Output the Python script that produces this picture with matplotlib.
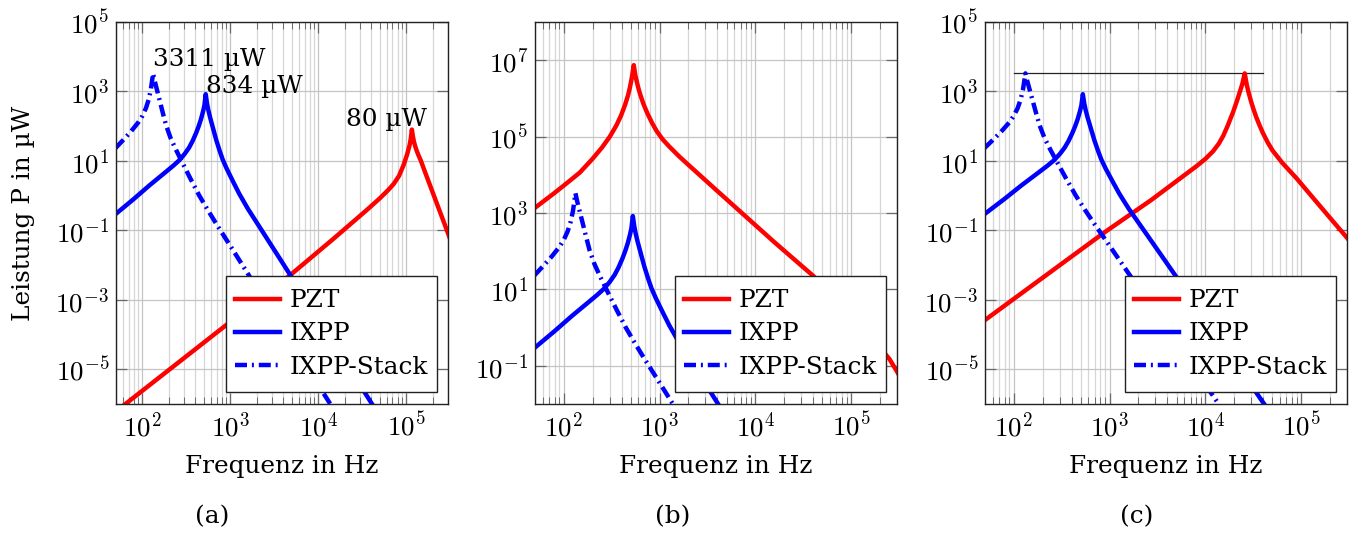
import matplotlib
matplotlib.use('Agg')
import matplotlib.pyplot as plt
from matplotlib.patches import Rectangle
from matplotlib.ticker import LogLocator, NullLocator, NullFormatter, FuncFormatter, FixedLocator
import math

plt.rcParams['font.family'] = ['DejaVu Serif']
plt.rcParams['mathtext.fontset'] = 'cm'

# ---------------- data (frequency in Hz, power in µW) ----------------
# IXPP (same in all panels)
ixpp_f = [49.0, 79.4, 119.4, 177.8, 223.9, 263.0, 302.0, 338.8, 371.5, 407.4, 436.5,
          463.4, 489.8, 507.0, 524.8, 543.3, 562.3, 588.8, 631.0, 691.8, 758.6, 818.5,
          912.0, 1072, 1259, 1585, 2344, 3846, 10000, 40740, 63100]
ixpp_P = [0.2884, 0.7943, 1.950, 4.467, 7.244, 10.47, 15.85, 23.99, 37.15, 63.10, 100,
          158.5, 269.2, 398.1, 834, 446.7, 288.4, 177.8, 93.33, 39.81, 19.05, 10.96,
          5.888, 2.570, 1.148, 0.4169, 0.08913, 0.01259, 2.818e-4, 1.023e-6, 1.778e-7]

# IXPP-Stack (same in all panels)
stack_f = [49.0, 60.26, 74.13, 89.13, 100, 109.6, 117.5, 124.5, 132.1, 138.0, 144.5,
           154.9, 169.8, 185.4, 208.9, 239.9, 287.1, 354.8, 443.6, 549.5, 687.1, 1019,
           1585, 13650, 19950]
stack_P = [22.91, 39.81, 70.79, 125.9, 199.5, 331.1, 575.4, 1122, 3311, 1995, 1259,
           631.0, 251.2, 107.2, 45.71, 21.38, 8.511, 2.951, 1.0, 0.3981, 0.1585, 0.03311,
           5.623e-3, 1.023e-6, 2.239e-7]

# PZT, panel (a)
pzt_a_f = [49.0, 893.3, 5012, 14790, 35480, 50120, 63100, 72440, 83180, 93330, 102300,
           109600, 113000, 116400, 119700, 123000, 127400, 131800, 138000, 146600,
           166000, 188400, 234400, 291700, 316200]
pzt_a_P = [5.888e-7, 1.862e-4, 5.623e-3, 0.05623, 0.3802, 0.8318, 1.479, 2.188, 3.715,
           7.413, 14.79, 28.18, 42.66, 80, 50.12, 35.48, 25.70, 19.95, 14.79, 10.47,
           4.467, 1.905, 0.4365, 0.1, 0.05754]

# PZT, panel (b)
pzt_b_f = [49.0, 79.43, 112.2, 146.9, 199.5, 251.2, 302.0, 354.8, 398.1, 436.5, 467.7,
           489.8, 512.9, 537.0, 555.9, 575.4, 602.6, 631.0, 676.1, 741.3, 831.8, 933.3,
           1072, 1259, 1585, 1995, 3981, 6918, 15850, 39810, 79430, 125900, 199500,
           251200, 295100, 316200]
pzt_b_P = [1318, 3311, 6607, 11480, 26300, 52480, 1.0e5, 1.995e5, 3.715e5, 6.918e5,
           1.202e6, 1.950e6, 3.548e6, 7.413e6, 4.169e6, 2.818e6, 1.778e6, 1.202e6,
           7.244e5, 4.169e5, 2.291e5, 1.380e5, 85110, 54950, 30900, 18200, 3802, 1096,
           169.8, 22.91, 3.981, 1.072, 0.3020, 0.1479, 0.07586, 0.05623]

# PZT, panel (c)
pzt_c_f = [49.0, 891.3, 2735, 8072, 10000, 12020, 13800, 15310, 16980, 19500, 21380,
           22910, 24270, 25700, 26920, 28180, 29850, 31620, 33880, 36730, 39810, 44670,
           50120, 63100, 89130, 125900, 199500, 295100, 316200]
pzt_c_P = [2.512e-4, 0.08913, 0.7586, 7.079, 11.48, 19.05, 31.62, 52.48, 100, 263.0,
           549.5, 1000, 1660, 3311, 1585, 933.3, 524.8, 316.2, 182.0, 104.7, 63.10,
           33.88, 19.95, 8.913, 3.162, 1.023, 0.2291, 0.06457, 0.05129]

# reference line in panel (c)
ref_f = [100, 40000]
ref_P = [3311, 3311]

labels = ['PZT', 'IXPP', 'IXPP-Stack']
yticks_ac = [1e-5, 1e-3, 1e-1, 1e1, 1e3, 1e5]
yticks_b = [1e-1, 1e1, 1e3, 1e5, 1e7]
xticks = [1e2, 1e3, 1e4, 1e5]

# ---------------- figure ----------------
W, H = 1355, 536
fig = plt.figure(figsize=(W / 100, H / 100), dpi=100)

FS = 17.8      # text
TFS = 19.5     # tick labels (Computer Modern)
RED = '#ff0000'
BLUE = '#0000ff'
LW = 3.2
DASHDOT = (0, (2.7, 1.1, 0.45, 1.1))

fmt = FuncFormatter(lambda v, p: r'$10^{%d}$' % int(round(math.log10(v))))

# axes boxes in pixels: left, right, top, bottom
BOXES = [(116, 448, 22, 404), (535, 897, 22, 404), (985, 1347, 22, 404)]
LEG_W, LEG_H, LEG_GAP_R, LEG_GAP_B = 211, 116, 11, 12


def make_axes(box):
    l, r, t, b = box
    return fig.add_axes([l / W, 1 - b / H, (r - l) / W, (b - t) / H])


def style(ax, ylim, yticks):
    ax.set_xscale('log')
    ax.set_yscale('log')
    ax.set_xlim(50, 3e5)
    ax.set_ylim(*ylim)
    ax.xaxis.set_major_locator(FixedLocator(xticks))
    ax.xaxis.set_minor_locator(LogLocator(base=10, subs=range(2, 10), numticks=30))
    ax.xaxis.set_minor_formatter(NullFormatter())
    ax.xaxis.set_major_formatter(fmt)
    ax.yaxis.set_major_locator(FixedLocator(yticks))
    ax.yaxis.set_minor_locator(NullLocator())
    ax.yaxis.set_major_formatter(fmt)
    ax.grid(True, which='major', color='#c4c4c4', lw=0.9)
    ax.grid(True, which='minor', axis='x', color='#d6d6d6', lw=0.9)
    ax.tick_params(which='both', direction='in', top=True, right=True, color='#6a6a6a')
    ax.tick_params(which='major', length=8, width=0.9, labelsize=TFS)
    ax.tick_params(axis='x', which='major', pad=6)
    ax.tick_params(axis='y', which='major', pad=5)
    ax.tick_params(which='minor', length=5, width=0.7)
    for s in ax.spines.values():
        s.set_linewidth(1.0)
        s.set_color('#222222')
    ax.set_axisbelow(True)


def curves(ax, box, pf, pP):
    ax.plot(pf, pP, color=RED, lw=LW, label=labels[0], solid_joinstyle='round')
    ax.plot(ixpp_f, ixpp_P, color=BLUE, lw=LW, label=labels[1], solid_joinstyle='round')
    ax.plot(stack_f, stack_P, color=BLUE, lw=LW, ls=DASHDOT, label=labels[2])
    l, r, t, b = box
    aw, ah = r - l, b - t
    x0 = (aw - LEG_GAP_R - LEG_W) / aw
    y0 = LEG_GAP_B / ah
    fw, fh = LEG_W / aw, LEG_H / ah
    ax.add_patch(Rectangle((x0, y0), fw, fh, transform=ax.transAxes, facecolor='white',
                           edgecolor='#222222', lw=1.0, zorder=4.9, clip_on=False))
    ax.legend(loc='center', bbox_to_anchor=(x0 + fw / 2, y0 + fh / 2), fontsize=FS,
              frameon=False, borderpad=0, handlelength=1.82, handletextpad=0.4,
              labelspacing=0.41, borderaxespad=0)


axes = [make_axes(bx) for bx in BOXES]
ax_a, ax_b, ax_c = axes

style(ax_a, (1e-6, 1e5), yticks_ac)
style(ax_b, (1e-2, 1e8), yticks_b)
style(ax_c, (1e-6, 1e5), yticks_ac)

curves(ax_a, BOXES[0], pzt_a_f, pzt_a_P)
curves(ax_b, BOXES[1], pzt_b_f, pzt_b_P)
curves(ax_c, BOXES[2], pzt_c_f, pzt_c_P)
ax_c.plot(ref_f, ref_P, color='#222222', lw=0.9, zorder=1.5)

# peak annotations in (a)
i_s = stack_P.index(max(stack_P))
i_i = ixpp_P.index(max(ixpp_P))
i_p = pzt_a_P.index(max(pzt_a_P))
ax_a.annotate('%d µW' % round(stack_P[i_s]), xy=(stack_f[i_s], stack_P[i_s]),
              xytext=(0, 5), textcoords='offset points', ha='left', va='baseline', fontsize=FS)
ax_a.annotate('%d µW' % round(ixpp_P[i_i]), xy=(ixpp_f[i_i], ixpp_P[i_i]),
              xytext=(0.5, 1), textcoords='offset points', ha='left', va='baseline', fontsize=FS)
ax_a.annotate('%d µW' % round(pzt_a_P[i_p]), xy=(pzt_a_f[i_p], pzt_a_P[i_p]),
              xytext=(-18.5, 2.4), textcoords='offset points', ha='center', va='baseline', fontsize=FS)

# axis labels
for cx in (282, 716, 1166):
    fig.text(cx / W, 1 - 467 / H, 'Frequenz in Hz', ha='center', va='center', fontsize=FS)
fig.text(24 / W, 1 - 213 / H, 'Leistung P in µW', rotation=90, ha='center', va='center', fontsize=FS)

# subcaptions
for cx, t in ((212, '(a)'), (673, '(b)'), (1137, '(c)')):
    fig.text(cx / W, 1 - 517 / H, t, ha='center', va='center', fontsize=FS)

fig.savefig('out.png', dpi=100)
